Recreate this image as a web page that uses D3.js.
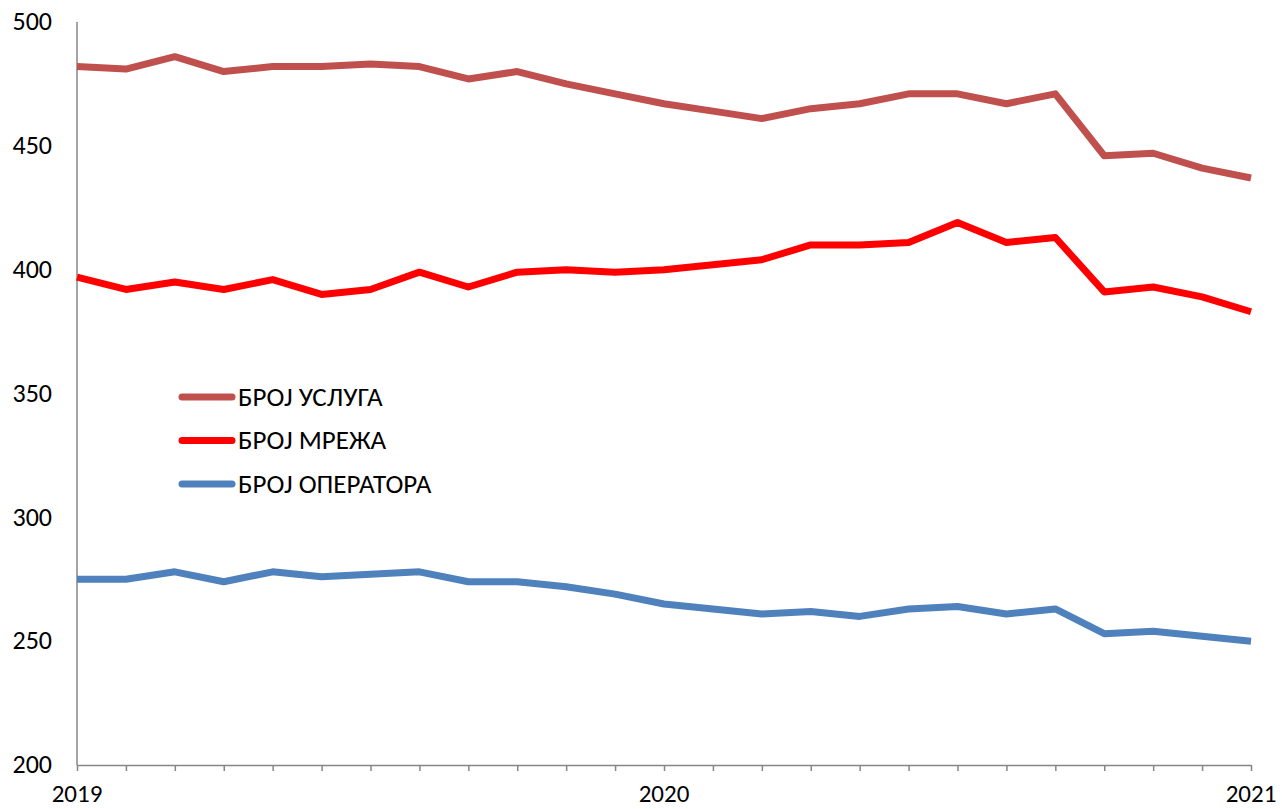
<!DOCTYPE html>
<html>
<head>
<meta charset="utf-8">
<script src="https://cdn.jsdelivr.net/npm/d3@7/dist/d3.min.js"></script>
<style>
  body { margin: 0; background: #fff; }
  text { font-family: Carlito, "Liberation Sans", "Open Sans", sans-serif; fill: #000; }
</style>
</head>
<body>
<div class="chart"></div>
<script>
// monthly points, Jan 2019 .. Jan 2021
const months = d3.range(25);
const yearLabels = [{i: 0, label: '2019'}, {i: 12, label: '2020'}, {i: 24, label: '2021'}];
const yTicks = [200, 250, 300, 350, 400, 450, 500];

const usluga = [482, 481, 486, 480, 482, 482, 483, 482, 477, 480, 475, 471, 467,
                464, 461, 465, 467, 471, 471, 467, 471, 446, 447, 441, 437];
const mreza = [397, 392, 395, 392, 396, 390, 392, 399, 393, 399, 400, 399, 400,
               402, 404, 410, 410, 411, 419, 411, 413, 391, 393, 389, 383];
const operatora = [275, 275, 278, 274, 278, 276, 277, 278, 274, 274, 272, 269, 265,
                   263, 261, 262, 260, 263, 264, 261, 263, 253, 254, 252, 250];

const seriesNames = ['БРОЈ УСЛУГА', 'БРОЈ МРЕЖА', 'БРОЈ ОПЕРАТОРА'];
const seriesColors = ['#C0504D', '#FF0000', '#4F81BD'];
const seriesValues = [usluga, mreza, operatora];

const width = 1282, height = 809;
const plotLeft = 77, plotRight = 1251, plotTop = 22, plotBottom = 765;

const svg = d3.select('.chart')
    .append('svg')
    .attr('width', width)
    .attr('height', height);

const x = d3.scaleLinear().domain([0, 24]).range([plotLeft, plotRight]);
const y = d3.scaleLinear().domain([200, 500]).range([plotBottom, plotTop]);

// y axis
svg.append('line')
    .attr('x1', plotLeft).attr('x2', plotLeft)
    .attr('y1', plotTop).attr('y2', plotBottom)
    .attr('stroke', '#868686')
    .attr('stroke-width', 1.5);

svg.selectAll('.ylab')
    .data(yTicks)
    .enter()
    .append('text')
    .attr('x', 52)
    .attr('y', d => y(d))
    .attr('dy', '0.32em')
    .style('text-anchor', 'end')
    .style('font-size', '26px')
    .text(d => d);

// x axis with monthly ticks
const xAxis = d3.axisBottom(x)
    .tickValues(months)
    .tickSize(6)
    .tickSizeOuter(0)
    .tickFormat('');
const gx = svg.append('g')
    .attr('transform', `translate(0,${plotBottom})`)
    .call(xAxis);
gx.select('.domain').attr('stroke', '#868686').attr('stroke-width', 1.5);
gx.selectAll('.tick line').attr('stroke', '#868686').attr('stroke-width', 1.5);

svg.selectAll('.xlab')
    .data(yearLabels)
    .enter()
    .append('text')
    .attr('x', d => x(d.i))
    .attr('y', 802)
    .style('text-anchor', 'middle')
    .style('font-size', '25px')
    .text(d => d.label);

// lines
const line = d3.line()
    .x((d, i) => x(i))
    .y(d => y(d));

seriesValues.forEach((vals, k) => {
    svg.append('path')
        .datum(vals)
        .attr('d', line)
        .attr('fill', 'none')
        .attr('stroke', seriesColors[k])
        .attr('stroke-width', 7)
        .attr('stroke-linejoin', 'round');
});

// legend
seriesNames.forEach((name, k) => {
    const ly = 397 + k * 43.5;
    svg.append('line')
        .attr('x1', 182).attr('x2', 232)
        .attr('y1', ly).attr('y2', ly)
        .attr('stroke', seriesColors[k])
        .attr('stroke-width', 7)
        .attr('stroke-linecap', 'round');
    svg.append('text')
        .attr('x', 238)
        .attr('y', ly)
        .attr('dy', '0.32em')
        .style('font-size', '27px')
        .text(name);
});
</script>
</body>
</html>
